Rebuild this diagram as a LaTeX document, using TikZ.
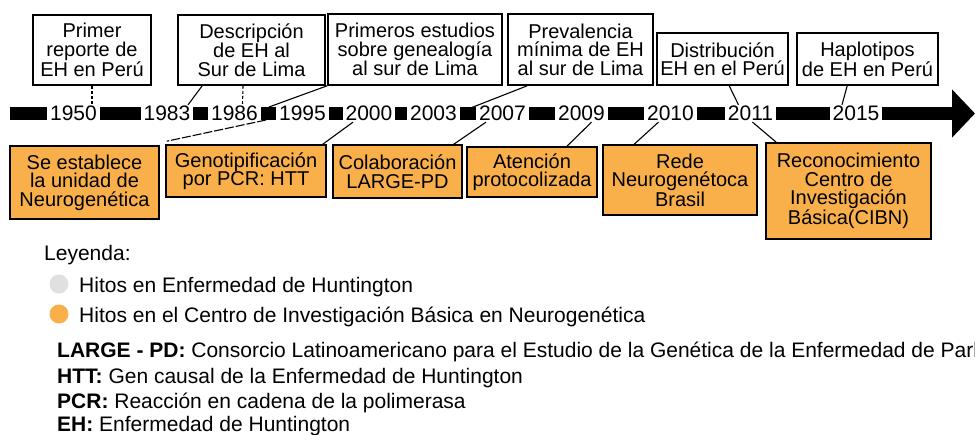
\documentclass[tikz,border=0pt]{standalone}
\usepackage{fontspec}
\setmainfont{Liberation Sans}
\usetikzlibrary{arrows.meta}

\definecolor{naranja}{HTML}{F9B04A}
\definecolor{grisclaro}{HTML}{DFE0DF}

\tikzset{
  hito/.style={draw=black,line width=1.6pt,fill=white,align=center,inner sep=0pt,
    font=\fontsize{20}{18.5}\selectfont},
  hitocibn/.style={hito,fill=naranja},
  anio/.style={fill=white,inner xsep=3pt,inner ysep=1pt,font=\fontsize{21}{21}\selectfont},
  enlace/.style={line width=1.1pt},
  punteado/.style={enlace,dash pattern=on 3pt off 2pt},
  rayado/.style={enlace,dash pattern=on 9pt off 2pt},
  leyenda/.style={anchor=base west,inner sep=0pt,font=\fontsize{21}{21}\selectfont},
  punto/.style={circle,inner sep=0pt,minimum size=19pt},
}

\begin{document}
\begin{tikzpicture}[x=1pt,y=-1pt]
\useasboundingbox (0,0) rectangle (975,434);

% linea de tiempo
\coordinate (ejeIni) at (10,113.5);
\coordinate (ejeFin) at (975,113.5);
\draw[line width=13pt,-{Triangle[length=23pt,width=47pt]}] (ejeIni) -- (ejeFin);
\foreach \a/\x in {1950/73.5,1983/167,1986/234.5,1995/302.5,2000/369,2003/433.5,
  2007/502.5,2009/581.5,2010/670.5,2011/750.5,2015/856}
  \node[anio] (y\a) at (\x,113.5) {\a};
\coordinate (s1995) at (269,107);
\coordinate (i1995) at (266,120);
\coordinate (s2003) at (468,109);

% hitos en EH (arriba)
\node[hito,minimum width=118pt,minimum height=70pt] (b1) at (92,50) {Primer\\reporte de\\EH en Perú};
\node[hito,minimum width=147pt,minimum height=70pt] (b2) at (251.5,50) {Descripción\\de EH al\\Sur de Lima};
\node[hito,minimum width=174pt,minimum height=71pt] (b3) at (415,49.5) {Primeros estudios\\sobre genealogía\\al sur de Lima};
\node[hito,minimum width=145pt,minimum height=71pt] (b4) at (580.5,49.5) {Prevalencia\\mínima de EH\\al sur de Lima};
\node[hito,minimum width=131pt,minimum height=52pt] (b5) at (722.5,59) {Distribución\\EH en el Perú};
\node[hito,minimum width=141pt,minimum height=52pt] (b6) at (867.5,59) {Haplotipos\\de EH en Perú};

% hitos en el CIBN (abajo)
\node[hitocibn,minimum width=149pt,minimum height=73pt] (o1) at (84.5,182.5) {Se establece\\la unidad de\\Neurogenética};
\node[hitocibn,minimum width=160pt,minimum height=52pt] (o2) at (246,171) {Genotipificación\\por PCR: HTT};
\node[hitocibn,minimum width=129pt,minimum height=53pt] (o3) at (397.5,171.5) {Colaboración\\LARGE-PD};
\node[hitocibn,minimum width=130pt,minimum height=50pt] (o4) at (532,172) {Atención\\protocolizada};
\node[hitocibn,minimum width=154pt,minimum height=70pt] (o5) at (680,180) {Rede\\Neurogenétoca\\Brasil};
\node[hitocibn,minimum width=165pt,minimum height=96pt] (o6) at (848.5,191) {Reconocimiento\\Centro de\\Investigación\\Básica(CIBN)};

% conectores
\draw[punteado] (b1.south) -- (b1.south |- y1950.north);
\draw[enlace] ([xshift=25pt]b2.south west) -- ([xshift=21pt]y1983.north);
\draw[punteado] ([xshift=-8.5pt]b2.south) -- ([xshift=8pt]y1986.north);
\draw[enlace] (b3.south west) -- (s1995);
\draw[enlace] ([xshift=20pt]b4.south west) -- (s2003);
\draw[enlace] ([xshift=73pt]b5.south west) -- ([xshift=-12pt]y2011.north);
\draw[enlace] ([xshift=51pt]b6.south west) -- ([xshift=-14pt]y2015.north);

\draw[rayado] (i1995) -- ([shift={(7pt,4pt)}]o1.north east);
\draw[enlace] ([xshift=-16pt]y2000.south) -- ([xshift=-4pt]o2.north east);
\draw[enlace] ([xshift=-16.5pt]y2007.south) -- ([xshift=-9pt]o3.north east);
\draw[enlace] ([xshift=10pt]y2009.south) -- ([xshift=35pt]o4.north);
\draw[enlace] ([xshift=-12pt]y2010.south) -- ([xshift=32pt]o5.north west);
\draw[enlace] ([xshift=2pt]y2011.south) -- ([xshift=11pt]o6.north west);

% leyenda
\node[leyenda] (ley) at (44,260) {Leyenda:};
\node[punto,fill=grisclaro] (pgris) at (59,284) {};
\node[leyenda] (ley1) at (79,292) {Hitos en Enfermedad de Huntington};
\node[punto,fill=naranja] (pnar) at (59,314) {};
\node[leyenda] (ley2) at (79,322) {Hitos en el Centro de Investigación Básica en Neurogenética};
\node[leyenda] (abr1) at (57,357) {\bfseries LARGE - PD:\mdseries{} Consorcio Latinoamericano para el Estudio de la Genética de la Enfermedad de Parkinson};
\node[leyenda] (abr2) at (57,383) {\bfseries HTT:\mdseries{} Gen causal de la Enfermedad de Huntington};
\node[leyenda] (abr3) at (57,408) {\bfseries PCR:\mdseries{} Reacción en cadena de la polimerasa};
\node[leyenda] (abr4) at (57,431) {\bfseries EH:\mdseries{} Enfermedad de Huntington};
\end{tikzpicture}
\end{document}
